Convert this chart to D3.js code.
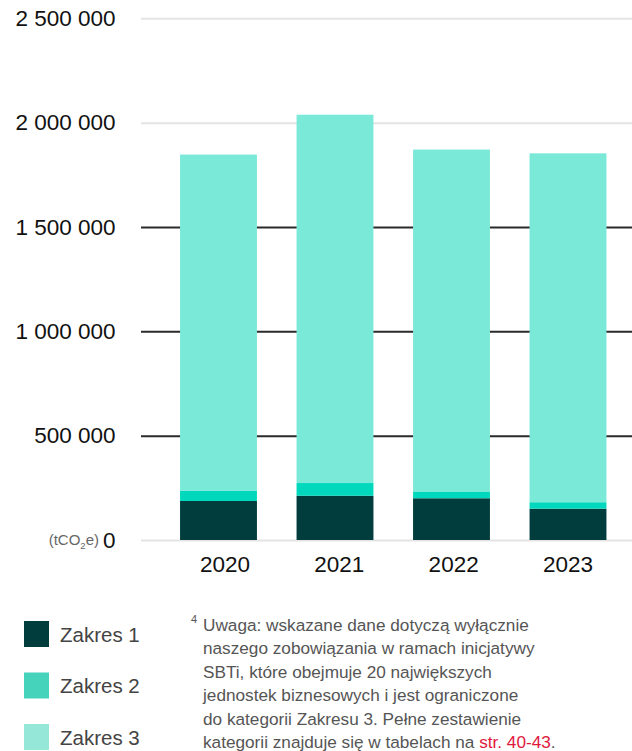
<!DOCTYPE html>
<html><head><meta charset="utf-8">
<script src="https://cdn.jsdelivr.net/npm/d3@7"></script>
<style>
html,body{margin:0;padding:0;background:#fff;}
svg{display:block;font-family:"Liberation Sans",Arial,sans-serif;}
</style></head>
<body>
<svg id="chart" width="632" height="751"></svg>
<script>
const years = ["2020", "2021", "2022", "2023"];
const zakres1 = [187000, 212000, 200000, 150000];
const zakres2 = [50000, 61000, 30000, 31000];
const zakres3 = [1610000, 1765000, 1641000, 1672000];
const seriesNames = ["Zakres 1", "Zakres 2", "Zakres 3"];
const yTicks = [0, 500000, 1000000, 1500000, 2000000, 2500000];
const darkTicks = [500000, 1000000, 1500000];
const barColors = ["#023d3d", "#00d8bd", "#7be9d8"];
const legendColors = ["#023d3d", "#45d4bb", "#95e7d7"];
const footnote = [
  "Uwaga: wskazane dane dotyczą wyłącznie",
  "naszego zobowiązania w ramach inicjatywy",
  "SBTi, które obejmuje 20 największych",
  "jednostek biznesowych i jest ograniczone",
  "do kategorii Zakresu 3. Pełne zestawienie",
  "kategorii znajduje się w tabelach na "
];
const linkText = "str. 40-43";

const table = years.map((y, i) => ({year: y, z1: zakres1[i], z2: zakres2[i], z3: zakres3[i]}));
const svg = d3.select("#chart");

const y = d3.scaleLinear().domain([0, 2500000]).range([540, 18.3]);
const x = d3.scaleBand().domain(years).range([160.25, 626.25]).paddingInner(0.34).paddingOuter(0.17);
const xLabel = d3.scaleBand().domain(years).range([167.9, 625.1]).padding(0);
const gridLeft = 141, gridRight = 632;

const fmt = v => d3.format(",")(v).replace(/,/g, " ");

// Y axis with gridlines
const yAxis = svg.append("g").attr("transform", `translate(${gridLeft},0)`)
  .call(d3.axisLeft(y).tickValues(yTicks).tickSize(-(gridRight - gridLeft)).tickPadding(25.5).tickFormat(fmt));
yAxis.select(".domain").remove();
yAxis.selectAll(".tick line")
  .attr("stroke", d => darkTicks.includes(d) ? "#2a2a2a" : "#e4e4e4")
  .attr("stroke-width", 2);
yAxis.selectAll(".tick text")
  .attr("fill", "#111").style("font-size", "22.5px").style("font-family", "'Liberation Sans',Arial,sans-serif");

// unit label
const unit = svg.append("text").attr("x", 99).attr("y", 545).attr("text-anchor", "end")
  .attr("fill", "#666").style("font-size", "15px");
unit.append("tspan").text("(tCO");
unit.append("tspan").attr("dy", 4).style("font-size", "9.5px").text("2");
unit.append("tspan").attr("dy", -4).text("e)");

// stacked bars
const stack = d3.stack().keys(["z1", "z2", "z3"]);
const stacked = stack(table);
svg.append("g").selectAll("g").data(stacked).join("g")
  .attr("fill", (d, i) => barColors[i])
  .selectAll("rect").data(d => d).join("rect")
  .attr("x", d => x(d.data.year))
  .attr("width", x.bandwidth())
  .attr("y", d => y(d[1]))
  .attr("height", d => y(d[0]) - y(d[1]));

// x axis labels
const xAxis = svg.append("g").attr("transform", "translate(0,548)")
  .call(d3.axisBottom(xLabel).tickSize(0).tickPadding(8));
xAxis.select(".domain").remove();
xAxis.selectAll(".tick text").attr("fill", "#111").style("font-size", "22.5px")
  .style("font-family", "'Liberation Sans',Arial,sans-serif");

// legend
const legend = svg.append("g").selectAll("g").data(seriesNames).join("g")
  .attr("transform", (d, i) => `translate(24,${621 + i * 51.5})`);
legend.append("rect").attr("width", 25).attr("height", 26).attr("fill", (d, i) => legendColors[i]);
legend.append("text").attr("x", 36).attr("y", 20.5).attr("fill", "#444").style("font-size", "20.5px").text(d => d);

// footnote
const fn = svg.append("g").attr("fill", "#555").style("font-size", "17.2px");
fn.append("text").attr("x", 191).attr("y", 623).style("font-size", "11px").text("4");
footnote.forEach((line, i) => {
  const t = fn.append("text").attr("x", 203).attr("y", 630.5 + i * 23.5);
  t.append("tspan").text(line);
  if (i === footnote.length - 1) {
    t.append("tspan").attr("fill", "#e0173c").text(linkText);
    t.append("tspan").text(".");
  }
});
</script>
</body></html>
